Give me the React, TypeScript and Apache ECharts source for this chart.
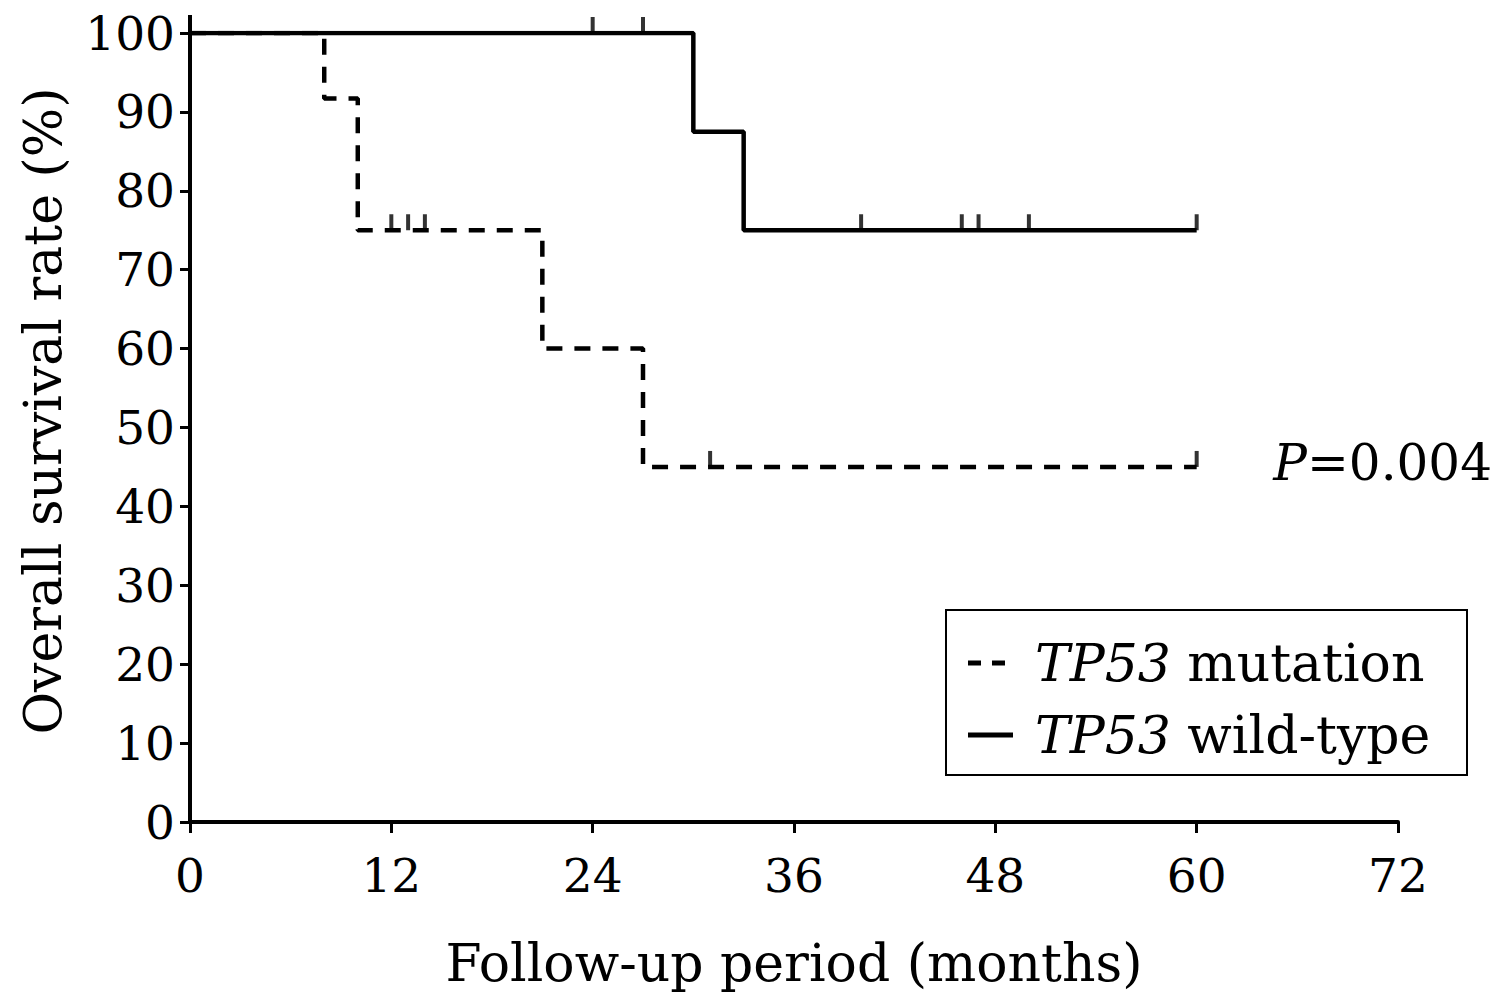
import React, { useEffect, useRef } from "react";
import * as echarts from "echarts";

// Kaplan–Meier step data (months, %)
const mutationTime = [0, 8, 10, 21, 27, 60];
const mutationSurvival = [100, 91.7, 75, 60, 45, 45];
const wildTime = [0, 30, 33, 60];
const wildSurvival = [100, 87.5, 75, 75];
// Censored observations
const mutationCensorTime = [12, 13, 14, 31, 60];
const mutationCensorSurvival = [75, 75, 75, 45, 45];
const wildCensorTime = [24, 27, 40, 46, 47, 50, 60];
const wildCensorSurvival = [100, 100, 75, 75, 75, 75, 75];

const seriesNames = ["TP53 mutation", "TP53 wild-type"];
const pValueText = "=0.004";

const FONT = "DejaVu Serif";

const zip = (a: number[], b: number[]) => a.map((v, i) => [v, b[i]]);

export default function App() {
  const ref = useRef<HTMLDivElement>(null);
  useEffect(() => {
    if (!ref.current) return;
    const chart = echarts.init(ref.current, undefined, { renderer: "svg" });
    const labelStyle = {
      fontFamily: FONT,
      fontSize: 47,
      fontWeight: "normal" as const,
      color: "#000",
    };
    chart.setOption({
      animation: false,
      backgroundColor: "#fff",
      grid: { left: 190, right: 101, top: 33, bottom: 179 },
      xAxis: {
        type: "value",
        min: 0,
        max: 72,
        interval: 12,
        axisLine: { show: true, lineStyle: { color: "#000", width: 4 } },
        axisTick: { show: true, length: 11, lineStyle: { color: "#000", width: 3 } },
        axisLabel: { ...labelStyle, margin: 30 },
        splitLine: { show: false },
        name: "Follow-up period (months)",
        nameLocation: "middle",
        nameGap: 115,
        nameTextStyle: { ...labelStyle, fontSize: 52 },
      },
      yAxis: {
        type: "value",
        min: 0,
        max: 100,
        interval: 10,
        axisLine: { show: true, lineStyle: { color: "#000", width: 4 } },
        axisTick: { show: true, length: 10, lineStyle: { color: "#000", width: 3 } },
        axisLabel: { ...labelStyle, margin: 15 },
        splitLine: { show: false },
      },
      legend: {
        orient: "vertical",
        left: 968,
        top: 637,
        padding: 0,
        itemWidth: 45,
        itemHeight: 5,
        itemGap: 20,
        data: [
          { name: seriesNames[0], icon: "path://M0,0h13v5h-13z M24,0h13v5h-13z M45,2.4h0.01v0.2h-0.01z" },
          { name: seriesNames[1], icon: "path://M0,0h45v5h-45z" },
        ],
        itemStyle: { color: "#000" },
        formatter: (name: string) => {
          const rest = name.replace("TP53 ", "");
          return `{i|TP53}{n| ${rest}}`;
        },
        textStyle: {
          rich: {
            i: {
              fontFamily: FONT,
              fontSize: 52,
              fontStyle: "italic",
              color: "#000",
              lineHeight: 48,
              padding: [0, 0, 0, 17],
            },
            n: {
              fontFamily: FONT,
              fontSize: 52,
              color: "#000",
              lineHeight: 48,
            },
          },
        },
      },
      series: [
        {
          name: seriesNames[0],
          type: "line",
          step: "end",
          z: 2,
          data: zip(mutationTime, mutationSurvival),
          symbol: "none",
          lineStyle: { color: "#000", width: 4.5, type: [16, 12] },
          itemStyle: { color: "#000" },
        },
        {
          name: seriesNames[1],
          type: "line",
          step: "end",
          z: 3,
          data: zip(wildTime, wildSurvival),
          symbol: "none",
          lineStyle: { color: "#000", width: 4.5 },
          itemStyle: { color: "#000" },
        },
        {
          name: "mutation censored",
          type: "scatter",
          data: zip(mutationCensorTime, mutationCensorSurvival),
          symbol: "rect",
          symbolSize: [4, 16],
          symbolOffset: [0, -8],
          itemStyle: { color: "#000" },
        },
        {
          name: "wild-type censored",
          type: "scatter",
          data: zip(wildCensorTime, wildCensorSurvival),
          symbol: "rect",
          symbolSize: [4, 16],
          symbolOffset: [0, -8],
          itemStyle: { color: "#000" },
        },
      ],
      graphic: [
        {
          type: "line",
          shape: { x1: 190, y1: 15, x2: 190, y2: 35 },
          style: { stroke: "#000", lineWidth: 4 },
        },
        {
          type: "rect",
          shape: { x: 946, y: 610, width: 521, height: 165 },
          style: { fill: "none", stroke: "#000", lineWidth: 2 },
        },
        {
          type: "text",
          x: 43,
          y: 411,
          rotation: Math.PI / 2,
          style: {
            text: "Overall survival rate (%)",
            fontFamily: FONT,
            fontSize: 52,
            fill: "#000",
            align: "center",
            verticalAlign: "middle",
          },
        },
        {
          type: "text",
          x: 1492,
          y: 463,
          style: {
            text: `{i|P}{n|${pValueText}}`,
            align: "right",
            verticalAlign: "middle",
            rich: {
              i: { fontFamily: FONT, fontSize: 50, fontStyle: "italic", fill: "#000" },
              n: { fontFamily: FONT, fontSize: 50, fill: "#000" },
            },
          },
        },
      ],
    });
    return () => chart.dispose();
  }, []);
  return (
    <div
      ref={ref}
      style={{ position: "fixed", left: 0, top: 0, width: 1499, height: 1001, background: "#fff" }}
    />
  );
}
